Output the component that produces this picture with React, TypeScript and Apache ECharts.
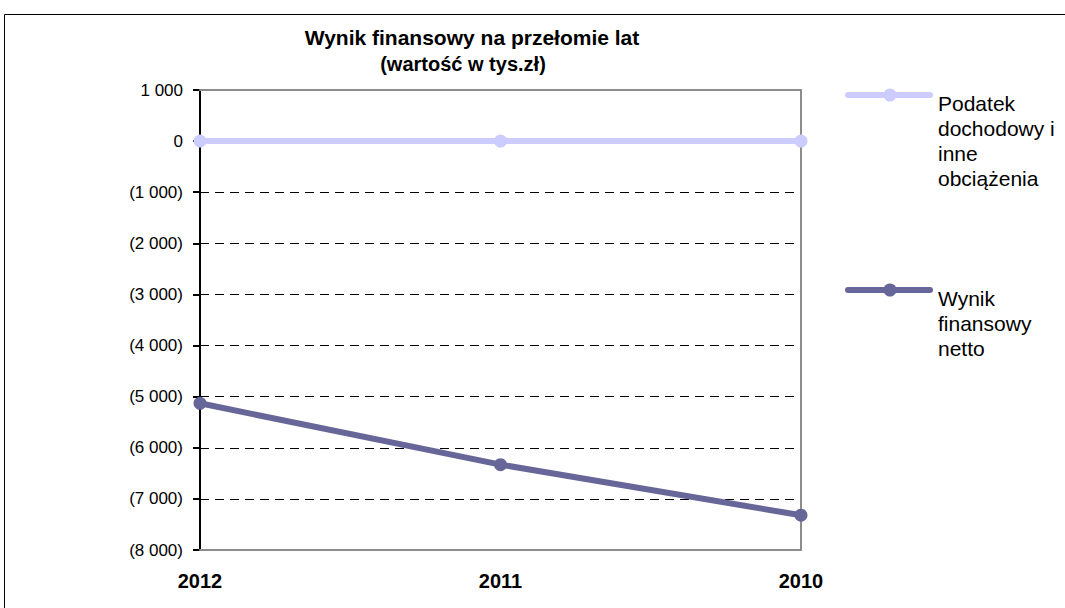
import React, { useEffect, useRef } from "react";
import * as echarts from "echarts";

const categories = ["2012", "2011", "2010"];
const podatekValues = [0, 0, 0];
const wynikValues = [-5130, -6330, -7320];
const podatekName = "Podatek\ndochodowy i\ninne\nobciążenia";
const wynikName = "Wynik\nfinansowy\nnetto";
const titleText = "Wynik finansowy na przełomie lat";
const subtitleText = "(wartość w tys.zł)";

function fmt(v: number): string {
  const a = Math.abs(v);
  const s = a >= 1000 ? Math.floor(a / 1000) + " " + String(a % 1000).padStart(3, "0") : String(a);
  return v < 0 ? "(" + s + ")" : s;
}

export default function App() {
  const ref = useRef<HTMLDivElement>(null);
  useEffect(() => {
    if (!ref.current) return;
    const chart = echarts.init(ref.current, null, { renderer: "svg" });
    const font = "'Liberation Sans', Arial, sans-serif";
    const c1 = "#ccccff";
    const c2 = "#666699";
    const gray = "#8c8c8c";
    chart.setOption({
      animation: false,
      backgroundColor: "#ffffff",
      textStyle: { fontFamily: font },
      grid: {
        left: 200,
        top: 90,
        width: 601,
        height: 460,
        show: false,
      },
      xAxis: [
        {
          type: "category",
          data: categories,
          boundaryGap: false,
          position: "bottom",
          z: 1,
          axisLine: { show: true, onZero: false, lineStyle: { color: gray, width: 2 } },
          axisTick: { show: false },
          axisLabel: { fontFamily: font, fontSize: 20, fontWeight: "bold", color: "#000", margin: 21 },
          splitLine: { show: false },
        },
        {
          type: "category",
          data: categories,
          boundaryGap: false,
          position: "top",
          z: 1,
          axisLine: { show: true, onZero: false, lineStyle: { color: gray, width: 2 } },
          axisTick: { show: false },
          axisLabel: { show: false },
          splitLine: { show: false },
        },
      ],
      yAxis: [
        {
          type: "value",
          min: -8000,
          max: 1000,
          interval: 1000,
          position: "left",
          axisLine: { show: true, lineStyle: { color: "#000", width: 2 } },
          axisTick: { show: true, length: 7, lineStyle: { color: "#000", width: 2 } },
          axisLabel: { fontFamily: font, fontSize: 17, color: "#000", margin: 17, formatter: (v: number) => fmt(v) },
          splitLine: { show: true, lineStyle: { color: "#000", type: [9, 6], width: 1 } },
        },
        {
          type: "value",
          min: -8000,
          max: 1000,
          interval: 1000,
          position: "right",
          z: 1,
          axisLine: { show: true, lineStyle: { color: gray, width: 2 } },
          axisTick: { show: false },
          axisLabel: { show: false },
          splitLine: { show: false },
        },
      ],
      series: [
        {
          name: podatekName,
          type: "line",
          data: podatekValues,
          color: c1,
          lineStyle: { width: 6, color: c1 },
          symbol: "circle",
          symbolSize: 13,
          itemStyle: { color: c1 },
          z: 3,
        },
        {
          name: wynikName,
          type: "line",
          data: wynikValues,
          color: c2,
          lineStyle: { width: 6, color: c2 },
          symbol: "circle",
          symbolSize: 13,
          itemStyle: { color: c2 },
          z: 3,
        },
      ],
      graphic: [
        {
          type: "rect",
          shape: { x: 4.5, y: 14.5, width: 1100, height: 640 },
          style: { fill: "none", stroke: "#000", lineWidth: 1 },
          z: -1,
        },
        {
          type: "text",
          x: 472,
          y: 37,
          style: {
            text: titleText,
            fontFamily: font,
            fontSize: 21,
            fontWeight: "bold",
            fill: "#000",
            align: "center",
            verticalAlign: "middle",
          },
        },
        {
          type: "text",
          x: 463,
          y: 64,
          style: {
            text: subtitleText,
            fontFamily: font,
            fontSize: 20,
            fontWeight: "bold",
            fill: "#000",
            align: "center",
            verticalAlign: "middle",
          },
        },
        { type: "line", shape: { x1: 848, y1: 95, x2: 930, y2: 95 }, style: { stroke: c1, lineWidth: 6, lineCap: "round" } },
        { type: "circle", shape: { cx: 890, cy: 95, r: 6.5 }, style: { fill: c1 } },
        {
          type: "text",
          x: 938,
          y: 91,
          style: { text: podatekName, fontFamily: font, fontSize: 21, lineHeight: 25, fill: "#000", verticalAlign: "top" },
        },
        { type: "line", shape: { x1: 848, y1: 290, x2: 930, y2: 290 }, style: { stroke: c2, lineWidth: 6, lineCap: "round" } },
        { type: "circle", shape: { cx: 890, cy: 290, r: 6.5 }, style: { fill: c2 } },
        {
          type: "text",
          x: 938,
          y: 286,
          style: { text: wynikName, fontFamily: font, fontSize: 21, lineHeight: 25, fill: "#000", verticalAlign: "top" },
        },
      ],
    });
    return () => chart.dispose();
  }, []);
  return <div ref={ref} style={{ position: "fixed", left: 0, top: 0, width: 1065, height: 608 }} />;
}
